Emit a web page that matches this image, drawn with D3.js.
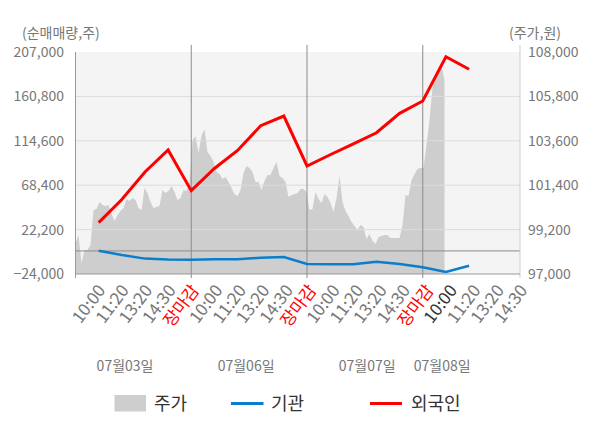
<!DOCTYPE html>
<html><head><meta charset="utf-8">
<script src="https://cdn.jsdelivr.net/npm/d3@7"></script>
<style>
body{margin:0;background:#fff}
svg{display:block}
text{font-family:"Noto Sans CJK KR","Noto Sans",sans-serif}
</style>
</head><body>
<svg id="c" width="600" height="428"></svg>
<script>
// ---- data ----
const timeLabels = ["10:00","11:20","13:20","14:30","장마감",
                    "10:00","11:20","13:20","14:30","장마감",
                    "10:00","11:20","13:20","14:30","장마감",
                    "10:00","11:20","13:20","14:30"];
const dateLabels = ["07월03일","07월06일","07월07일","07월08일"];
const datePos = [2.14, 7.37, 12.6, 15.84];      // slot position of each date label
const dayBreaks = [5, 10, 15];                  // slots of 장마감
const foreignNet = [29400, 53500, 82100, 105000, 62700, 85800, 104600, 130300, 140400,
                    88400, 100100, 111400, 123000, 143200, 156000, 202100, 189000];
const instNet = [200, -4200, -8000, -9000, -9100, -8700, -8700, -7000, -6300,
                 -13600, -13800, -13900, -11200, -13600, -17000, -22000, -15400];
const price = [98490,98930,97550,98190,98190,98440,100170,100220,100570,100420,
  100370,100420,99970,99630,99920,100120,100270,100720,100620,100770,
  100670,100270,100170,101260,101010,100570,100270,100320,100370,101160,
  101010,101110,101360,101060,100670,100770,101160,101110,101560,103640,
  103840,103000,103840,104180,103050,102850,102550,102050,101950,101710,
  101810,101560,101260,100960,100860,101160,102000,102350,102250,102050,
  101560,101560,101160,101610,101900,101900,102250,102550,101860,101760,
  101560,100820,100910,100960,101010,101210,101210,101060,100170,100220,
  101060,100720,100520,100960,100820,100520,100070,100770,101860,100570,
  100120,99870,99580,99380,99180,99430,99330,98730,98980,98640,
  98490,98830,98880,98930,98930,98780,98780,98780,98780,99430,
  100910,100860,101660,101950,102200,102250,102250,103390,104630,106270,
  106910,107110,107310,106610];
const priceSpan = 15.94;                        // slots covered by the price series
const leftTicks = [-24000, 22200, 68400, 114600, 160800, 207000];
const rightTicks = [97000, 99200, 101400, 103600, 105800, 108000];
const legendItems = ["주가","기관","외국인"];

// ---- layout ----
const L = 75.5, R = 520, T = 52, B = 274;
const svg = d3.select("#c");
const x = d3.scaleLinear().domain([0, 19.2]).range([L, R]);
const yL = d3.scaleLinear().domain([-24000, 207000]).range([B, T]);
const yR = d3.scaleLinear().domain([97000, 108000]).range([B, T]);
const xLab = d3.scalePoint().domain(d3.range(timeLabels.length)).range([101.5, 523.5]);

svg.append("rect").attr("x", L).attr("y", T).attr("width", R - L).attr("height", B - T).attr("fill", "#f4f4f4");

// price area
const pStep = priceSpan / (price.length - 1);
svg.append("path").datum(price)
  .attr("fill", "#cecece")
  .attr("d", d3.area().x((d, i) => x(i * pStep)).y0(B).y1(d => yR(d)));

// horizontal grid
svg.append("g").selectAll("line").data(leftTicks.slice(1, -1)).join("line")
  .attr("x1", L).attr("x2", R).attr("y1", d => yL(d)).attr("y2", d => yL(d))
  .attr("stroke", "#dcdcdc").attr("stroke-width", 1);
// zero line
svg.append("line").attr("x1", L).attr("x2", R).attr("y1", yL(0)).attr("y2", yL(0))
  .attr("stroke", "#8c8c8c").attr("stroke-width", 1);

// vertical day lines
svg.append("g").selectAll("line").data(dayBreaks).join("line")
  .attr("x1", d => x(d)).attr("x2", d => x(d)).attr("y1", 45).attr("y2", 278)
  .attr("stroke", "#8c8c8c").attr("stroke-width", 1);

// axes lines
svg.append("line").attr("x1", L).attr("x2", L).attr("y1", T).attr("y2", 278).attr("stroke", "#999");
svg.append("line").attr("x1", R).attr("x2", R).attr("y1", 45).attr("y2", 278).attr("stroke", "#cfcfcf");
svg.append("line").attr("x1", L).attr("x2", R).attr("y1", B).attr("y2", B).attr("stroke", "#999");

// lines
const slotOf = (d, i) => x(i + 1);
svg.append("path").datum(instNet)
  .attr("fill", "none").attr("stroke", "#0a7ecb").attr("stroke-width", 2.5)
  .attr("d", d3.line().x(slotOf).y(d => yL(d)));
svg.append("path").datum(foreignNet)
  .attr("fill", "none").attr("stroke", "#ff0000").attr("stroke-width", 3)
  .attr("d", d3.line().x(slotOf).y(d => yL(d)));

// y tick labels
svg.append("g").selectAll("text").data(leftTicks).join("text")
  .attr("x", 64).attr("y", d => yL(d)).attr("dy", "0.35em").attr("text-anchor", "end")
  .attr("font-size", 14).attr("fill", "#777").text(d => d3.format(",")(d));
svg.append("g").selectAll("text").data(rightTicks).join("text")
  .attr("x", 528).attr("y", d => yR(d)).attr("dy", "0.35em").attr("text-anchor", "start")
  .attr("font-size", 14).attr("fill", "#777").text(d => d3.format(",")(d));

svg.append("text").attr("x", 22).attr("y", 38).attr("font-size", 14).attr("fill", "#777").text("(순매매량,주)");
svg.append("text").attr("x", 509).attr("y", 38).attr("font-size", 14).attr("fill", "#777").text("(주가,원)");

// x tick labels
svg.append("g").selectAll("text").data(timeLabels).join("text")
  .attr("transform", (d, i) => `translate(${xLab(i)},287) rotate(-53)`)
  .attr("dy", "0.35em").attr("text-anchor", "end").attr("font-size", 17)
  .attr("fill", (d, i) => d === "장마감" ? "#ff0000" : (i === 15 ? "#333" : "#777"))
  .text(d => d);

// date labels
svg.append("g").selectAll("text").data(dateLabels).join("text")
  .attr("x", (d, i) => x(datePos[i])).attr("y", 366).attr("dy", "0.35em")
  .attr("text-anchor", "middle").attr("font-size", 14).attr("fill", "#777").text(d => d);

// legend
const lg = svg.append("g");
lg.append("rect").attr("x", 114.5).attr("y", 395).attr("width", 31.5).attr("height", 16.5).attr("fill", "#cecece");
lg.append("line").attr("x1", 231).attr("x2", 263.5).attr("y1", 403.5).attr("y2", 403.5).attr("stroke", "#0a7ecb").attr("stroke-width", 3);
lg.append("line").attr("x1", 370).attr("x2", 402).attr("y1", 403.5).attr("y2", 403.5).attr("stroke", "#ff0000").attr("stroke-width", 3);
const lx = [154, 271, 411];
lg.selectAll("text").data(legendItems).join("text")
  .attr("x", (d, i) => lx[i]).attr("y", 403.5).attr("dy", "0.35em")
  .attr("font-size", 18).attr("fill", "#333").text(d => d);
</script>
</body></html>
